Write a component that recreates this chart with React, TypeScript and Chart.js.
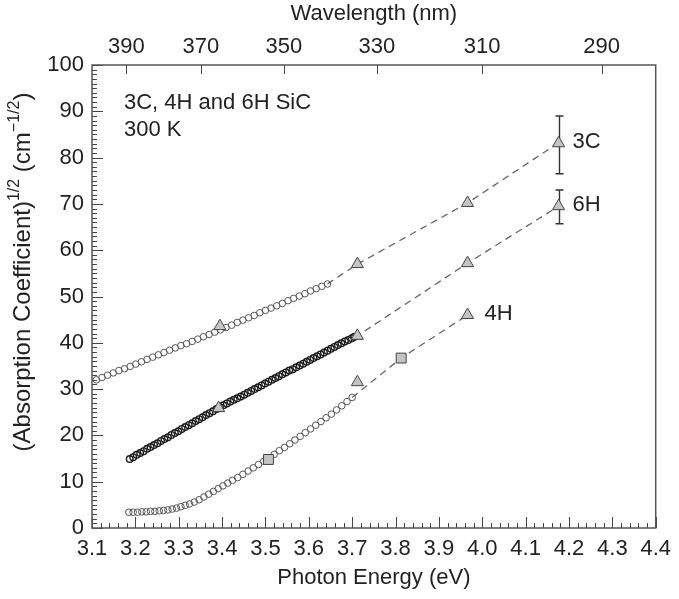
import React, { useEffect, useRef } from 'react';
import { Chart, registerables } from 'chart.js';

Chart.register(...registerables);

const FONT = '"Liberation Sans", Arial, Helvetica, sans-serif';
const TEXT = '#222';
const HC = 1239.84; // eV·nm

// Tick labels
const energyTicks = [3.1, 3.2, 3.3, 3.4, 3.5, 3.6, 3.7, 3.8, 3.9, 4.0, 4.1, 4.2, 4.3, 4.4];
const absTicks = [0, 10, 20, 30, 40, 50, 60, 70, 80, 90, 100];
const wavelengthTicks = [390, 370, 350, 330, 310, 290];

// 3C SiC measured (open circles)
const c3X = [3.110, 3.123, 3.136, 3.149, 3.162, 3.175, 3.188, 3.201, 3.214, 3.227, 3.240, 3.253, 3.266, 3.279, 3.292, 3.305, 3.318, 3.331, 3.344, 3.357, 3.370, 3.383, 3.396, 3.409, 3.422, 3.435, 3.448, 3.461, 3.474, 3.487, 3.500, 3.513, 3.526, 3.539, 3.552, 3.565, 3.578, 3.591, 3.604, 3.617, 3.630, 3.643];
const c3Y = [32.0, 32.5, 33.0, 33.5, 34.0, 34.4, 34.9, 35.4, 35.9, 36.4, 36.9, 37.4, 37.9, 38.4, 38.9, 39.4, 39.8, 40.3, 40.8, 41.3, 41.8, 42.3, 42.8, 43.3, 43.8, 44.4, 44.9, 45.4, 45.9, 46.5, 47.0, 47.5, 48.0, 48.5, 49.1, 49.6, 50.1, 50.6, 51.2, 51.7, 52.2, 52.7];

// 6H SiC measured (dense circles)
const h6X = [3.187, 3.195, 3.203, 3.211, 3.219, 3.227, 3.235, 3.243, 3.251, 3.259, 3.267, 3.275, 3.283, 3.291, 3.299, 3.307, 3.315, 3.323, 3.331, 3.339, 3.347, 3.355, 3.363, 3.371, 3.379, 3.387, 3.395, 3.403, 3.411, 3.419, 3.427, 3.435, 3.443, 3.451, 3.459, 3.467, 3.475, 3.483, 3.491, 3.499, 3.507, 3.515, 3.523, 3.531, 3.539, 3.547, 3.555, 3.563, 3.571, 3.579, 3.587, 3.595, 3.603, 3.611, 3.619, 3.627, 3.635, 3.643, 3.651, 3.659, 3.667, 3.675, 3.683, 3.691, 3.699, 3.705];
const h6Y = [14.9, 15.3, 15.8, 16.2, 16.6, 17.1, 17.5, 17.9, 18.3, 18.8, 19.2, 19.6, 20.1, 20.5, 20.9, 21.4, 21.8, 22.2, 22.6, 23.1, 23.5, 23.9, 24.4, 24.8, 25.2, 25.7, 26.1, 26.5, 26.9, 27.3, 27.7, 28.0, 28.4, 28.8, 29.2, 29.6, 30.0, 30.4, 30.8, 31.2, 31.6, 32.0, 32.4, 32.8, 33.2, 33.6, 34.0, 34.3, 34.7, 35.1, 35.5, 35.9, 36.3, 36.7, 37.1, 37.5, 37.9, 38.3, 38.7, 39.1, 39.5, 39.9, 40.3, 40.6, 41.0, 41.3];

// 4H SiC measured (open circles)
const h4X = [3.185, 3.195, 3.205, 3.215, 3.225, 3.235, 3.245, 3.255, 3.265, 3.275, 3.285, 3.295, 3.305, 3.315, 3.325, 3.336, 3.347, 3.358, 3.369, 3.380, 3.391, 3.402, 3.413, 3.424, 3.436, 3.448, 3.460, 3.472, 3.484, 3.496, 3.508, 3.520, 3.532, 3.544, 3.556, 3.568, 3.580, 3.592, 3.604, 3.616, 3.628, 3.640, 3.652, 3.664, 3.676, 3.688, 3.700];
const h4Y = [3.4, 3.4, 3.4, 3.5, 3.5, 3.6, 3.6, 3.7, 3.8, 3.9, 4.1, 4.3, 4.6, 4.9, 5.2, 5.6, 6.1, 6.7, 7.3, 7.9, 8.5, 9.1, 9.7, 10.3, 10.9, 11.6, 12.3, 13.0, 13.7, 14.4, 15.1, 15.9, 16.7, 17.4, 18.2, 19.0, 19.8, 20.6, 21.4, 22.2, 23.0, 23.8, 24.6, 25.5, 26.4, 27.3, 28.2];

// Dashed extrapolations
const d3X = [3.643, 3.712, 3.966, 4.176];
const d3Y = [52.7, 57.0, 70.2, 83.2];
const d6X = [3.705, 3.712, 3.966, 4.176];
const d6Y = [41.3, 41.5, 57.2, 69.5];
const d4X = [3.700, 3.813, 3.966];
const d4Y = [28.2, 36.7, 46.0];

// Triangles and squares
const t3X = [3.395, 3.712, 3.966, 4.176];
const t3Y = [43.6, 57.0, 70.2, 83.1];
const t6X = [3.392, 3.712, 3.966, 4.176];
const t6Y = [25.9, 41.5, 57.2, 69.5];
const t4X = [3.712, 3.966];
const t4Y = [31.5, 46.0];
const s4X = [3.507, 3.813];
const s4Y = [14.8, 36.7];

// Error bars
const errX = [4.176, 4.176];
const errLo = [76.5, 65.7];
const errHi = [89.0, 73.0];

// Series labels
const seriesNames = ['3C', '6H', '4H'];
const seriesLabelX = [4.176, 4.176, 3.966];
const seriesLabelY = [83.1, 69.5, 46.0];

const noteLines = ['3C, 4H and 6H SiC', '300 K'];
const xTitle = 'Photon Energy (eV)';
const topTitle = 'Wavelength (nm)';
const yTitleParts: [string, boolean][] = [
  ['(Absorption Coefficient)', false],
  ['1/2', true],
  [' (cm', false],
  ['\u22121/2', true],
  [')', false],
];

const pts = (xs: number[], ys: number[]) => xs.map((x, i) => ({ x, y: ys[i] }));

const decor = {
  id: 'decor',
  beforeDatasetsDraw(chart: any) {
    const ctx = chart.ctx;
    const xs = chart.scales.x;
    const ys = chart.scales.y;
    ctx.save();
    ctx.strokeStyle = '#333';
    ctx.lineWidth = 1.4;
    for (let i = 0; i < errX.length; i++) {
      const x = Math.round(xs.getPixelForValue(errX[i])) + 0.5;
      const y1 = ys.getPixelForValue(errLo[i]);
      const y2 = ys.getPixelForValue(errHi[i]);
      ctx.beginPath();
      ctx.moveTo(x, y1);
      ctx.lineTo(x, y2);
      ctx.moveTo(x - 4, y1);
      ctx.lineTo(x + 4, y1);
      ctx.moveTo(x - 4, y2);
      ctx.lineTo(x + 4, y2);
      ctx.stroke();
    }
    ctx.restore();
  },
  afterDraw(chart: any) {
    const ctx = chart.ctx;
    const { left, right, top, bottom } = chart.chartArea;
    const xs = chart.scales.x;
    const ys = chart.scales.y;
    ctx.save();
    const line = (x1: number, y1: number, x2: number, y2: number) => {
      ctx.beginPath();
      ctx.moveTo(x1, y1);
      ctx.lineTo(x2, y2);
      ctx.stroke();
    };
    ctx.strokeStyle = '#444';
    ctx.lineWidth = 1;
    for (let v = 0; v <= 100; v++) {
      const y = Math.round(ys.getPixelForValue(v)) + 0.5;
      line(left, y, left + (v % 10 === 0 ? 11 : 5), y);
    }
    for (let i = 0; i <= 65; i++) {
      const x = Math.round(xs.getPixelForValue(3.1 + i * 0.02)) + 0.5;
      line(x, bottom, x, bottom - (i % 5 === 0 ? 11 : 5));
    }
    for (const w of wavelengthTicks) {
      const x = Math.round(xs.getPixelForValue(HC / w)) + 0.5;
      line(x, top, x, top + 9);
    }
    ctx.strokeStyle = '#555';
    ctx.lineWidth = 1.5;
    ctx.strokeRect(left, top, right - left, bottom - top);

    ctx.fillStyle = TEXT;
    ctx.font = `22px ${FONT}`;
    ctx.textBaseline = 'middle';
    ctx.textAlign = 'left';
    for (let i = 0; i < seriesNames.length; i++) {
      const x = xs.getPixelForValue(seriesLabelX[i]) + (i === 2 ? 17 : 14);
      const y = ys.getPixelForValue(seriesLabelY[i]) - 1;
      ctx.fillText(seriesNames[i], x, y);
    }
    noteLines.forEach((t, i) => ctx.fillText(t, left + 32, top + 38 + i * 27));

    ctx.textAlign = 'center';
    const cx = (left + right) / 2;
    ctx.fillText(topTitle, cx, 14);
    ctx.fillText(xTitle, cx, 578);

    ctx.save();
    ctx.translate(23, 272);
    ctx.rotate(-Math.PI / 2);
    ctx.textAlign = 'left';
    const big = `24px ${FONT}`;
    const small = `16px ${FONT}`;
    let total = 0;
    for (const [t, sup] of yTitleParts) {
      ctx.font = sup ? small : big;
      total += ctx.measureText(t).width;
    }
    let px = -total / 2;
    for (const [t, sup] of yTitleParts) {
      ctx.font = sup ? small : big;
      ctx.fillText(t, px, sup ? -8 : 0);
      px += ctx.measureText(t).width;
    }
    ctx.restore();
    ctx.restore();
  },
};

export default function App() {
  const ref = useRef<HTMLCanvasElement>(null);
  useEffect(() => {
    if (!ref.current) return;
    const tri = (xs: number[], ys: number[]) => ({
      data: pts(xs, ys),
      pointStyle: 'triangle',
      pointRadius: 7,
      pointBackgroundColor: '#c4c4c4',
      pointBorderColor: '#444',
      pointBorderWidth: 1,
      showLine: false,
    });
    const circ = (xs: number[], ys: number[], col: string, bw: number) => ({
      data: pts(xs, ys),
      pointStyle: 'circle',
      pointRadius: 3.3,
      pointBackgroundColor: 'rgba(255,255,255,0)',
      pointBorderColor: col,
      pointBorderWidth: bw,
      showLine: false,
    });
    const dash = (xs: number[], ys: number[]) => ({
      data: pts(xs, ys),
      showLine: true,
      borderColor: '#666',
      borderWidth: 1.3,
      borderDash: [7, 5],
      pointRadius: 0,
      fill: false,
    });
    const tickFont = { family: FONT, size: 22 };
    const chart = new Chart(ref.current, {
      type: 'scatter',
      data: {
        datasets: [
          tri(t3X, t3Y),
          tri(t6X, t6Y),
          tri(t4X, t4Y),
          {
            data: pts(s4X, s4Y),
            pointStyle: 'rect',
            pointRadius: 7,
            pointBackgroundColor: '#c4c4c4',
            pointBorderColor: '#444',
            pointBorderWidth: 1,
            showLine: false,
          },
          circ(c3X, c3Y, '#555', 1),
          circ(h6X, h6Y, '#1a1a1a', 1.4),
          circ(h4X, h4Y, '#555', 1),
          dash(d3X, d3Y),
          dash(d6X, d6Y),
          dash(d4X, d4Y),
        ] as any,
      },
      options: {
        responsive: false,
        animation: false,
        devicePixelRatio: 1,
        layout: { padding: { left: 0, right: 18, top: 0, bottom: 0 } },
        plugins: { legend: { display: false }, tooltip: { enabled: false } },
        scales: {
          x: {
            type: 'linear',
            position: 'bottom',
            min: 3.1,
            max: 4.4,
            afterBuildTicks: (s: any) => {
              s.ticks = energyTicks.map((v) => ({ value: v }));
            },
            afterFit: (s: any) => {
              s.height = 71;
            },
            grid: { display: false, drawTicks: false },
            border: { display: false },
            ticks: {
              autoSkip: false,
              maxRotation: 0,
              minRotation: 0,
              padding: 8,
              color: TEXT,
              font: tickFont,
              callback: (_v: any, i: number) => energyTicks[i].toFixed(1),
            },
          },
          x2: {
            type: 'linear',
            position: 'top',
            min: 3.1,
            max: 4.4,
            afterBuildTicks: (s: any) => {
              s.ticks = wavelengthTicks.map((w) => ({ value: HC / w }));
            },
            afterFit: (s: any) => {
              s.height = 65;
            },
            grid: { display: false, drawTicks: false },
            border: { display: false },
            ticks: {
              autoSkip: false,
              maxRotation: 0,
              minRotation: 0,
              padding: 5,
              color: TEXT,
              font: tickFont,
              callback: (_v: any, i: number) => String(wavelengthTicks[i]),
            },
          },
          y: {
            type: 'linear',
            min: 0,
            max: 100,
            afterBuildTicks: (s: any) => {
              s.ticks = absTicks.map((v) => ({ value: v }));
            },
            afterFit: (s: any) => {
              s.width = 92;
            },
            grid: { display: false, drawTicks: false },
            border: { display: false },
            ticks: {
              autoSkip: false,
              padding: 8,
              color: TEXT,
              font: tickFont,
              callback: (_v: any, i: number) => String(absTicks[i]),
            },
          },
        },
      } as any,
      plugins: [decor],
    });
    return () => chart.destroy();
  }, []);
  return (
    <div style={{ position: 'absolute', left: 0, top: 0, width: 679, height: 599, background: '#fff' }}>
      <canvas ref={ref} width={679} height={599} style={{ display: 'block' }} />
    </div>
  );
}
